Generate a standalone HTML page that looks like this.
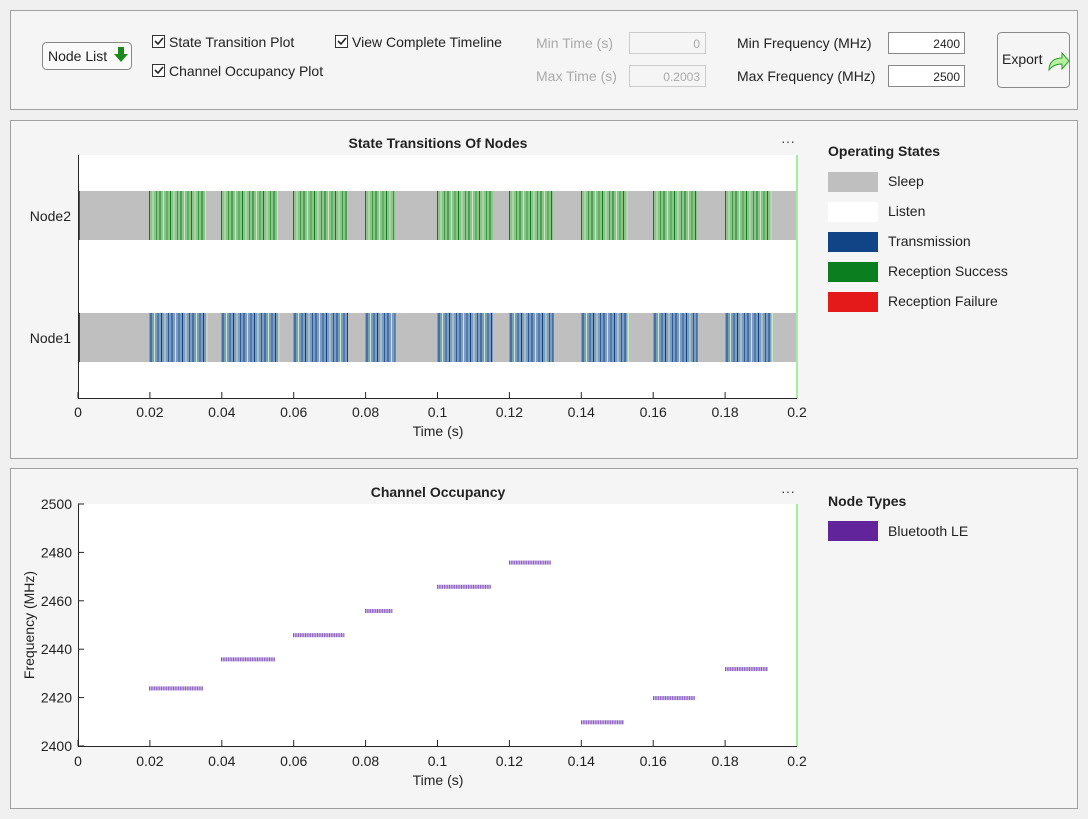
<!DOCTYPE html>
<html><head><meta charset="utf-8"><style>
body{margin:0;width:1088px;height:819px;background:#f0f0f0;font-family:"Liberation Sans",Arial,sans-serif;overflow:hidden}
svg{position:absolute;left:0;top:0}
</style></head><body>
<svg id="s" width="1088" height="819" xmlns="http://www.w3.org/2000/svg" font-family="Liberation Sans, Arial, sans-serif">
<rect x="0" y="0" width="1088" height="819" fill="#f0f0f0"/>
<rect x="10.5" y="10.5" width="1067" height="99" fill="#f5f5f5" stroke="#a0a0a0"/>
<rect x="10.5" y="120.5" width="1067" height="338" fill="#f5f5f5" stroke="#a0a0a0"/>
<rect x="10.5" y="468.5" width="1067" height="340" fill="#f5f5f5" stroke="#a0a0a0"/>
<rect x="42.5" y="42.5" width="89" height="27" rx="4" fill="#fafafa" stroke="#888"/>
<text x="48" y="61" font-size="14" fill="#222">Node List</text>
<path d="M118 47h6v7h4l-7 8-7-8h4z" fill="#1a8a1a"/>
<g font-size="14" fill="#222">
<rect x="152.5" y="35.5" width="12" height="12" fill="#fff" stroke="#333"/><path d="M155 41l3 3 5-6" stroke="#222" stroke-width="1.6" fill="none"/>
<text x="169" y="47">State Transition Plot</text>
<rect x="152.5" y="64.5" width="12" height="12" fill="#fff" stroke="#333"/><path d="M155 70l3 3 5-6" stroke="#222" stroke-width="1.6" fill="none"/>
<text x="169" y="76">Channel Occupancy Plot</text>
<rect x="335.5" y="35.5" width="12" height="12" fill="#fff" stroke="#333"/><path d="M338 41l3 3 5-6" stroke="#222" stroke-width="1.6" fill="none"/>
<text x="352" y="47">View Complete Timeline</text>
</g>
<g font-size="14" fill="#aaa">
<text x="536" y="48">Min Time (s)</text>
<text x="536" y="81">Max Time (s)</text>
</g>
<rect x="629.5" y="32.5" width="76" height="21" fill="#f5f5f5" stroke="#ccc"/>
<rect x="629.5" y="65.5" width="76" height="21" fill="#f5f5f5" stroke="#ccc"/>
<text x="700" y="48" font-size="12" fill="#aaa" text-anchor="end">0</text>
<text x="700" y="81" font-size="12" fill="#aaa" text-anchor="end">0.2003</text>
<g font-size="14" fill="#222">
<text x="737" y="48">Min Frequency (MHz)</text>
<text x="737" y="81">Max Frequency (MHz)</text>
</g>
<rect x="888.5" y="32.5" width="76" height="21" fill="#fff" stroke="#888"/>
<rect x="888.5" y="65.5" width="76" height="21" fill="#fff" stroke="#888"/>
<text x="960" y="48" font-size="12" fill="#222" text-anchor="end">2400</text>
<text x="960" y="81" font-size="12" fill="#222" text-anchor="end">2500</text>
<rect x="997.5" y="32.5" width="72" height="55" rx="4" fill="#f5f5f5" stroke="#888"/>
<text x="1002" y="64" font-size="14" fill="#222">Export</text>
<path d="M1049 70c0-8 5-12 13-12v-5l7 8-7 8v-5c-6 0-10 2-13 6z" fill="#b8f0a0" stroke="#2a9a2a"/>
<rect x="78" y="155" width="719" height="243" fill="#fff"/>
<text x="438" y="148" font-size="14" font-weight="bold" text-anchor="middle" fill="#222">State Transitions Of Nodes</text>
<text x="788" y="146" font-size="14" text-anchor="middle" fill="#444">···</text>
<rect x="80" y="191" width="717" height="49" fill="#bfbfbf"/>
<rect x="80" y="313" width="717" height="49" fill="#bfbfbf"/>
<g id="st"></g>
<line x1="797" y1="155" x2="797" y2="398" stroke="#a8eaa0" stroke-width="2"/>
<line x1="78.5" y1="155" x2="78.5" y2="398" stroke="#262626"/>
<line x1="78" y1="398.5" x2="797" y2="398.5" stroke="#262626"/>
<text x="71" y="221" font-size="14" text-anchor="end" fill="#222">Node2</text>
<text x="71" y="343" font-size="14" text-anchor="end" fill="#222">Node1</text>
<g id="tx1" font-size="14" fill="#222" text-anchor="middle"></g>
<text x="438" y="436" font-size="14" text-anchor="middle" fill="#222">Time (s)</text>
<text x="828" y="156" font-size="14" font-weight="bold" fill="#222">Operating States</text>
<rect x="828" y="172" width="50" height="20" fill="#bfbfbf"/><text x="888" y="186" font-size="14" fill="#222">Sleep</text>
<rect x="828" y="202" width="50" height="20" fill="#fff"/><text x="888" y="216" font-size="14" fill="#222">Listen</text>
<rect x="828" y="232" width="50" height="20" fill="#104487"/><text x="888" y="246" font-size="14" fill="#222">Transmission</text>
<rect x="828" y="262" width="50" height="20" fill="#0b7e1f"/><text x="888" y="276" font-size="14" fill="#222">Reception Success</text>
<rect x="828" y="292" width="50" height="20" fill="#e3191a"/><text x="888" y="306" font-size="14" fill="#222">Reception Failure</text>
<rect x="78" y="504" width="719" height="242" fill="#fff"/>
<text x="438" y="497" font-size="14" font-weight="bold" text-anchor="middle" fill="#222">Channel Occupancy</text>
<text x="788" y="496" font-size="14" text-anchor="middle" fill="#444">···</text>
<g id="co"></g>
<line x1="797" y1="504" x2="797" y2="746" stroke="#a8eaa0" stroke-width="2"/>
<line x1="78.5" y1="504" x2="78.5" y2="746" stroke="#262626"/>
<line x1="78" y1="746.5" x2="797" y2="746.5" stroke="#262626"/>
<g id="ty" font-size="14" fill="#222" text-anchor="end"></g>
<g id="tx2" font-size="14" fill="#222" text-anchor="middle"></g>
<text x="438" y="785" font-size="14" text-anchor="middle" fill="#222">Time (s)</text>
<text transform="translate(34,625) rotate(-90)" font-size="14" text-anchor="middle" fill="#222">Frequency (MHz)</text>
<text x="828" y="506" font-size="14" font-weight="bold" fill="#222">Node Types</text>
<rect x="828" y="521" width="50" height="20" fill="#61249a"/><text x="888" y="536" font-size="14" fill="#222">Bluetooth LE</text>
</svg>
<script>
var NS="http://www.w3.org/2000/svg";
function el(p,t,a,txt){var e=document.createElementNS(NS,t);for(var k in a)e.setAttribute(k,a[k]);if(txt!=null)e.textContent=txt;document.getElementById(p).appendChild(e);return e;}
var X0=78;
var bursts=[[149,206],[221,278],[293,347],[365,395],[437,493],[509,553],[581,627],[653,697],[725,771]];
bursts.forEach(function(b,i){
  el("st","rect",{x:b[0],y:191,width:b[1]-b[0],height:49,fill:"#8cc48c"});
  el("st","rect",{x:b[0],y:313,width:b[1]-b[0],height:49,fill:"#7e9cc0"});
  var k=0;
  for(var x=b[0];x<b[1];x+=3.5,k++){
    var j=k%3;
    el("st","rect",{x:x,y:191,width:1,height:49,fill:j==0?"#0b7e1f":(j==1?"#c8e8c0":"#3a9a40")});
    el("st","rect",{x:x+1.5,y:313,width:1,height:49,fill:j==0?"#104487":(j==1?"#c8e8c0":"#2a5a9a")});
  }
});
el("st","rect",{x:78,y:191,width:2,height:49,fill:"#0b7e1f"});
el("st","rect",{x:78,y:313,width:2,height:49,fill:"#104487"});
var labs=["0","0.02","0.04","0.06","0.08","0.1","0.12","0.14","0.16","0.18","0.2"];
labs.forEach(function(l,i){var x=X0+i*71.9;
  el("tx1","text",{x:x,y:417},l);el("tx2","text",{x:x,y:766},l);
  el("st","line",{x1:x,y1:398,x2:x,y2:392,stroke:"#262626"});
  el("co","line",{x1:x,y1:746,x2:x,y2:740,stroke:"#262626"});
});
for(var f=2400;f<=2500;f+=20){var y=746-(f-2400)*2.42;
  el("ty","text",{x:72,y:y+5},String(f));
  el("co","line",{x1:78,y1:y,x2:84,y2:y,stroke:"#262626"});}
var fr=[2424,2436,2446,2456,2466,2476,2410,2420,2432];
bursts.forEach(function(b,i){var y=746-(fr[i]-2400)*2.42;
  el("co","rect",{x:b[0],y:y-1.5,width:b[1]-b[0]-3,height:4,fill:"#c8b0e0"});
  for(var x=b[0];x<b[1]-3;x+=2.4)el("co","rect",{x:x,y:y-1.5,width:1,height:4,fill:"#8a5cc0"});
});
el("co","rect",{x:78,y:713,width:1,height:4,fill:"#8a5cc0"});
el("co","rect",{x:796,y:643,width:2,height:4,fill:"#8a5cc0"});
</script>
</body></html>
